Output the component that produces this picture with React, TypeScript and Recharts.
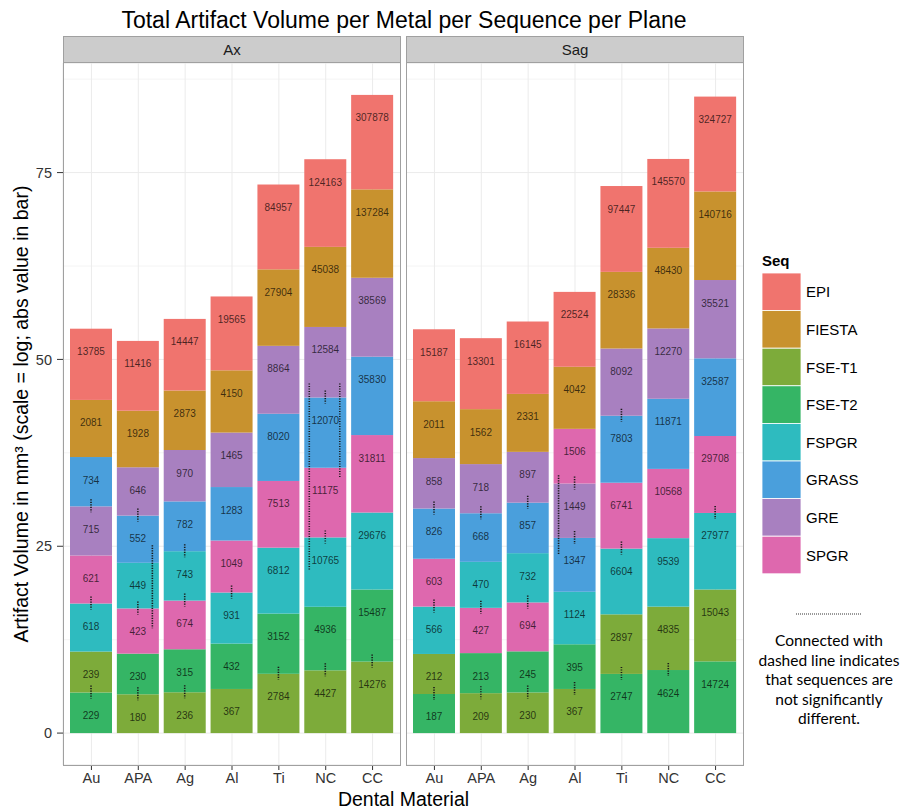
import { BarChart, Bar, XAxis, YAxis, CartesianGrid, LabelList } from "recharts";

const materials = ["Au", "APA", "Ag", "Al", "Ti", "NC", "CC"];
const sequences = ["EPI", "FIESTA", "FSE-T1", "FSE-T2", "FSPGR", "GRASS", "GRE", "SPGR"];
const seqColors = ["#F0746E", "#C8922E", "#7DAB3A", "#35B565", "#2EBBBF", "#4A9FDC", "#A880C0", "#DE68AE"];

// Ax plane, mm^3, one value per material
const axEPI = [13785, 11416, 14447, 19565, 84957, 124163, 307878];
const axFIESTA = [2081, 1928, 2873, 4150, 27904, 45038, 137284];
const axFSET1 = [239, 180, 236, 367, 2784, 4427, 14276];
const axFSET2 = [229, 230, 315, 432, 3152, 4936, 15487];
const axFSPGR = [618, 449, 743, 931, 6812, 10765, 29676];
const axGRASS = [734, 552, 782, 1283, 8020, 12070, 35830];
const axGRE = [715, 646, 970, 1465, 8864, 12584, 38569];
const axSPGR = [621, 423, 674, 1049, 7513, 11175, 31811];

// Sag plane
const sagEPI = [15187, 13301, 16145, 22524, 97447, 145570, 324727];
const sagFIESTA = [2011, 1562, 2331, 4042, 28336, 48430, 140716];
const sagFSET1 = [212, 209, 230, 367, 2897, 4835, 15043];
const sagFSET2 = [187, 213, 245, 395, 2747, 4624, 14724];
const sagFSPGR = [566, 470, 732, 1124, 6604, 9539, 27977];
const sagGRASS = [826, 668, 857, 1347, 7803, 11871, 32587];
const sagGRE = [858, 718, 897, 1449, 8092, 12270, 35521];
const sagSPGR = [603, 427, 694, 1506, 6741, 10568, 29708];

// neighbouring segments that are not significantly different
const axPairs = [
  ["Au", "GRASS", "GRE"], ["Au", "SPGR", "FSPGR"], ["Au", "FSE-T1", "FSE-T2"],
  ["APA", "GRE", "GRASS"], ["APA", "FSPGR", "SPGR"], ["APA", "FSE-T2", "FSE-T1"],
  ["Ag", "GRASS", "FSPGR"], ["Ag", "FSPGR", "SPGR"], ["Ag", "FSE-T2", "FSE-T1"],
  ["Al", "SPGR", "FSPGR"],
  ["Ti", "FSE-T2", "FSE-T1"],
  ["NC", "GRE", "GRASS"], ["NC", "SPGR", "FSPGR"], ["NC", "FSE-T2", "FSE-T1"],
  ["CC", "FSE-T2", "FSE-T1"],
];
const sagPairs = [
  ["Au", "GRE", "GRASS"], ["Au", "SPGR", "FSPGR"], ["Au", "FSE-T1", "FSE-T2"],
  ["APA", "GRE", "GRASS"], ["APA", "FSPGR", "SPGR"], ["APA", "FSE-T2", "FSE-T1"],
  ["Ag", "GRE", "GRASS"], ["Ag", "FSPGR", "SPGR"], ["Ag", "FSE-T2", "FSE-T1"],
  ["Al", "SPGR", "GRE"], ["Al", "GRE", "GRASS"], ["Al", "FSE-T2", "FSE-T1"],
  ["Ti", "GRE", "GRASS"], ["Ti", "SPGR", "FSPGR"], ["Ti", "FSE-T1", "FSE-T2"],
  ["NC", "FSE-T1", "FSE-T2"],
  ["CC", "SPGR", "FSPGR"],
];

// longer connectors: [material, upper seq, where in it (0 = bottom), lower seq, where in it, side]
const axLong = [
  ["APA", "GRASS", 0.37, "SPGR", 0.56, "right"],
  ["NC", "GRE", 0.2, "FSPGR", 0.53, "left"],
  ["NC", "GRE", 0.2, "SPGR", 0.86, "right"],
];
const sagLong = [["Al", "SPGR", 0.15, "GRASS", 0.68, "left"]];

const majorTicks = [0, 25, 50, 75];
const minorTicks = [12.5, 37.5, 62.5, 87.5];

const FONT = "'Liberation Sans', Arial, Helvetica, sans-serif";
const RANKS = [0, 1, 2, 3, 4, 5, 6, 7];

function buildRows(values: number[][]) {
  return materials.map((m, mi) => {
    const segs = sequences
      .map((s, si) => ({ seq: s, value: values[si][mi] }))
      .sort((a, b) => a.value - b.value);
    const row: any = { material: m, total: 0 };
    segs.forEach((g, k) => {
      row[`r${k}`] = Math.log(g.value);
      row[`v${k}`] = g.value;
      row[`s${k}`] = g.seq;
      row.total += Math.log(g.value);
    });
    return row;
  });
}

const axRows = buildRows([axEPI, axFIESTA, axFSET1, axFSET2, axFSPGR, axGRASS, axGRE, axSPGR]);
const sagRows = buildRows([sagEPI, sagFIESTA, sagFSET1, sagFSET2, sagFSPGR, sagGRASS, sagGRE, sagSPGR]);

const maxTotal = Math.max(...axRows.map((r) => r.total), ...sagRows.map((r) => r.total));
const yDomain = [-maxTotal * 0.05, maxTotal * 1.05];

const dotStyle = { stroke: "#1a1a1a", strokeWidth: 1.6, strokeDasharray: "1.2 1.3" };

function makeShape(rank: number, pairs: any[], longs: any[]) {
  return (props: any) => {
    const { x, y, width, height, payload } = props;
    const seq = payload[`s${rank}`];
    const rect = (
      <rect x={x} y={y} width={width} height={height} fill={seqColors[sequences.indexOf(seq)]} />
    );
    if (rank !== 7) return rect;

    // work out the segment edges of the whole stack from the top segment
    const ppu = height / payload.r7;
    const base = y + payload.total * ppu;
    const tops: number[] = [];
    let c = 0;
    RANKS.forEach((k) => {
      c += payload[`r${k}`];
      tops[k] = base - c * ppu;
    });
    const bottomOf = (k: number) => (k === 0 ? base : tops[k - 1]);
    const rankOf = (s: string) => RANKS.find((k) => payload[`s${k}`] === s) as number;
    const cx = x + width / 2;

    const marks: any[] = [];
    pairs
      .filter((p) => p[0] === payload.material)
      .forEach((p, i) => {
        const k = Math.min(rankOf(p[1]), rankOf(p[2]));
        const yb = tops[k];
        marks.push(<line key={`p${i}`} x1={cx} x2={cx} y1={yb - 7} y2={yb + 6} {...dotStyle} />);
      });
    longs
      .filter((l) => l[0] === payload.material)
      .forEach((l, i) => {
        const a = rankOf(l[1]);
        const b = rankOf(l[3]);
        const ya = bottomOf(a) - l[2] * (bottomOf(a) - tops[a]);
        const yb = bottomOf(b) - l[4] * (bottomOf(b) - tops[b]);
        const lx = l[5] === "left" ? x + 5 : x + width - 6.5;
        marks.push(<line key={`l${i}`} x1={lx} x2={lx} y1={ya} y2={yb} {...dotStyle} />);
      });
    return (
      <g>
        {rect}
        {marks}
      </g>
    );
  };
}

const segLabel = (p: any) => (
  <text
    x={p.x + p.width / 2}
    y={p.y + 23}
    textAnchor="middle"
    dominantBaseline="central"
    fontSize={10}
    fontFamily={FONT}
    fill="rgba(0,0,0,0.7)"
  >
    {p.value}
  </text>
);

function Panel({ rows, pairs, longs, withAxis }: any) {
  return (
    <BarChart
      width={withAxis ? 401 : 338}
      height={810}
      data={rows}
      margin={{ top: 63, right: 0, bottom: 0, left: 0 }}
      barSize={42}
    >
      <CartesianGrid yAxisId="minor" vertical={false} stroke="#F4F4F4" />
      <CartesianGrid yAxisId="major" stroke="#EBEBEB" />
      <XAxis
        dataKey="material"
        interval={0}
        padding={{ left: 5, right: 5 }}
        axisLine={false}
        tickLine={{ stroke: "#333" }}
        tickSize={5}
        tickMargin={3}
        height={45}
        tick={{ fontSize: 14.5, fill: "#333", fontFamily: FONT }}
      />
      <YAxis
        yAxisId="major"
        type="number"
        domain={yDomain}
        allowDataOverflow
        ticks={majorTicks}
        hide={!withAxis}
        width={63}
        axisLine={false}
        tickLine={{ stroke: "#333" }}
        tickSize={6}
        tickMargin={5}
        tick={{ fontSize: 14.5, fill: "#333", fontFamily: FONT }}
      />
      <YAxis yAxisId="minor" type="number" domain={yDomain} allowDataOverflow ticks={minorTicks} hide />
      {RANKS.map((k) => (
        <Bar
          key={k}
          yAxisId="major"
          dataKey={`r${k}`}
          stackId="a"
          isAnimationActive={false}
          shape={makeShape(k, pairs, longs)}
        >
          <LabelList dataKey={`v${k}`} content={segLabel} />
        </Bar>
      ))}
    </BarChart>
  );
}

const noteLines = ["Connected with", "dashed line indicates", "that sequences are", "not significantly", "different."];

export default function App() {
  return (
    <div
      style={{
        position: "absolute",
        left: 0,
        top: 0,
        width: 905,
        height: 810,
        background: "#fff",
        fontFamily: FONT,
      }}
    >
      <div style={{ position: "absolute", left: 0, top: 0 }}>
        <Panel rows={axRows} pairs={axPairs} longs={axLong} withAxis />
      </div>
      <div style={{ position: "absolute", left: 406, top: 0 }}>
        <Panel rows={sagRows} pairs={sagPairs} longs={sagLong} withAxis={false} />
      </div>
      <svg
        width={905}
        height={810}
        style={{ position: "absolute", left: 0, top: 0, pointerEvents: "none" }}
        fontFamily={FONT}
      >
        <text x={404} y={28} textAnchor="middle" fontSize={23} fill="#000">
          Total Artifact Volume per Metal per Sequence per Plane
        </text>
        {[
          { x: 63, label: "Ax" },
          { x: 406, label: "Sag" },
        ].map((s) => (
          <g key={s.label}>
            <rect x={s.x + 0.5} y={36.5} width={337} height={26} fill="#CCCCCC" stroke="#A0A0A0" />
            <text x={s.x + 169} y={54.5} textAnchor="middle" fontSize={15} fill="#1a1a1a">
              {s.label}
            </text>
            <rect x={s.x + 0.5} y={62.5} width={337} height={703} fill="none" stroke="#A0A0A0" />
          </g>
        ))}
        <text
          transform="translate(28,414) rotate(-90)"
          textAnchor="middle"
          fontSize={19.5}
          fill="#000"
        >
          Artifact Volume in mm³ (scale = log; abs value in bar)
        </text>
        <text x={403.5} y={806} textAnchor="middle" fontSize={19.5} fill="#000">
          Dental Material
        </text>

        <text x={762} y={266} fontSize={15} fontWeight="bold" fill="#000">
          Seq
        </text>
        {sequences.map((s, i) => (
          <g key={s}>
            <rect x={762} y={273 + i * 37.6} width={39} height={37.6} fill={seqColors[i]} stroke="#fff" strokeWidth={0.8} />
            <text x={806} y={273 + i * 37.6 + 18.8} dominantBaseline="central" fontSize={15} fill="#000">
              {s}
            </text>
          </g>
        ))}

        <line x1={796} x2={862} y1={614} y2={614} stroke="#333" strokeWidth={1} strokeDasharray="1 1" />
        {noteLines.map((t, i) => (
          <text
            key={t}
            x={829}
            y={646 + i * 19.5}
            textAnchor="middle"
            fontSize={15.5}
            fontFamily="Lato, 'Open Sans', sans-serif"
            fill="#000"
          >
            {t}
          </text>
        ))}
      </svg>
    </div>
  );
}
